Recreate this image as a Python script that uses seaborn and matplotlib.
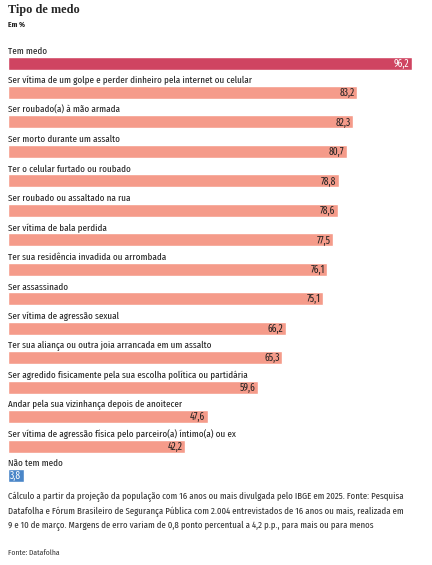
import pandas as pd
import matplotlib.pyplot as plt
import seaborn as sns

# dados (em %)
categorias = [
    "Tem medo",
    "Ser vítima de um golpe e perder dinheiro pela internet ou celular",
    "Ser roubado(a) à mão armada",
    "Ser morto durante um assalto",
    "Ter o celular furtado ou roubado",
    "Ser roubado ou assaltado na rua",
    "Ser vítima de bala perdida",
    "Ter sua residência invadida ou arrombada",
    "Ser assassinado",
    "Ser vítima de agressão sexual",
    "Ter sua aliança ou outra joia arrancada em um assalto",
    "Ser agredido fisicamente pela sua escolha política ou partidária",
    "Andar pela sua vizinhança depois de anoitecer",
    "Ser vítima de agressão física pelo parceiro(a) íntimo(a) ou ex",
    "Não tem medo",
]
valores = [96.2, 83.2, 82.3, 80.7, 78.8, 78.6, 77.5, 76.1, 75.1, 66.2, 65.3, 59.6, 47.6, 42.2, 3.8]
grupos = ["total"] + ["medo"] * 13 + ["sem"]

cores = {"total": "#cf4461", "medo": "#f59b8a", "sem": "#4a86c8"}
cor_texto = {"total": "white", "medo": "#222222", "sem": "white"}

df = pd.DataFrame({"cat": categorias, "valor": valores, "grupo": grupos})

sns.set_style("white")
plt.rcParams['font.family'] = ['Fira Sans Extra Condensed', 'DejaVu Sans']

fig = plt.figure(figsize=(4.32, 5.65), dpi=100)
ax = fig.add_axes([8 / 432, 1 - 490.3 / 565, 403.7 / 432, 442 / 565])

sns.barplot(data=df, x="valor", y="cat", hue="grupo", palette=cores, dodge=False,
            width=0.44, legend=False, ax=ax, saturation=1)

ax.set_xlim(0, 96.2)
ax.set_ylim(14.5, -0.5)
ax.axis("off")

for i, (cat, v, g) in enumerate(zip(categorias, valores, grupos)):
    ax.text(0, i - 0.31, cat, ha="left", va="baseline", fontsize=7.1, color="#222222")
    ax.text(v - 0.6, i + 0.02, f"{v:.1f}".replace(".", ","), ha="right", va="center",
            fontsize=7.4, color=cor_texto[g])

fig.text(8 / 432, 1 - 4 / 565, "Tipo de medo", ha="left", va="top",
         fontsize=8.8, fontweight="bold", family=["Liberation Serif", "DejaVu Serif"])
fig.text(8 / 432, 1 - 21 / 565, "Em %", ha="left", va="top", fontsize=5.5, fontweight="bold",
         family=["Fira Sans Condensed", "DejaVu Sans"])

nota = ("Cálculo a partir da projeção da população com 16 anos ou mais divulgada pelo IBGE em 2025. Fonte: Pesquisa\n"
        "Datafolha e Fórum Brasileiro de Segurança Pública com 2.004 entrevistados de 16 anos ou mais, realizada em\n"
        "9 e 10 de março. Margens de erro variam de 0,8 ponto percentual a 4,2 p.p., para mais ou para menos")
fig.text(8 / 432, 1 - 492 / 565, nota, ha="left", va="top", fontsize=6.9, color="#333333",
         linespacing=1.55)
fig.text(8 / 432, 1 - 549 / 565, "Fonte: Datafolha", ha="left", va="top", fontsize=5.5,
         color="#333333", family=["Fira Sans Condensed", "DejaVu Sans"])

fig.savefig("out.png", dpi=100)
